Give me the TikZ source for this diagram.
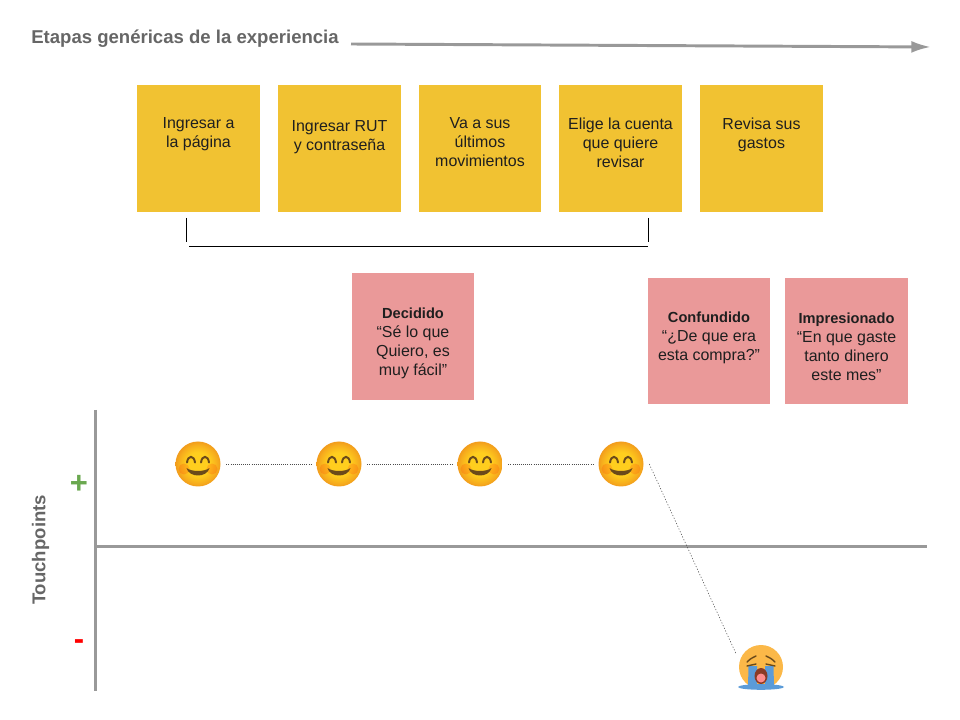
\documentclass[tikz,border=0pt]{standalone}
\usepackage{fontspec}
\setmainfont{Liberation Sans}
\usetikzlibrary{arrows.meta}
\definecolor{notayellow}{HTML}{F1C232}
\definecolor{notapink}{HTML}{EA9999}
\definecolor{ejegray}{HTML}{999999}
\definecolor{titlegray}{HTML}{666666}
\definecolor{bodytext}{HTML}{1F1F1F}
\definecolor{cara}{HTML}{FFCE1E}
\definecolor{caraborde}{HTML}{F29C1C}
\definecolor{ojos}{HTML}{6B4A1A}
\definecolor{caratriste}{HTML}{FBB848}
\definecolor{lagrima}{HTML}{5B9BD8}
\definecolor{boca}{HTML}{8A3B25}
\pgfdeclareradialshading{carasol}{\pgfpointorigin}{color(0bp)=(cara); color(13bp)=(cara); color(22bp)=(caraborde!70!cara); color(25bp)=(caraborde); color(50bp)=(caraborde)}
\tikzset{
  yellownote/.style={fill=notayellow,minimum width=3.075cm,minimum height=3.175cm,inner sep=0pt},
  pinknote/.style={fill=notapink,minimum width=3.05cm,minimum height=3.15cm,inner sep=0pt},
  notetext/.style={align=center,text=bodytext,font=\fontsize{11.35}{13.5}\selectfont,inner sep=0pt},
  axistitle/.style={inner sep=0pt,text=titlegray,font=\fontsize{13.2}{15}\selectfont\bfseries},
  eje/.style={ejegray,line width=2.1pt},
  dotline/.style={black!70,line width=.4pt,dash pattern=on .6pt off .9pt},
  emojislot/.style={circle,minimum size=1.4cm,inner sep=0pt},
  bracketline/.style={black,line width=.6pt},
  pics/smiley/.style={code={
    \shade[shading=carasol] (0,0) circle (22.5);
    \fill[red!70!orange,opacity=.18] (-14,5) circle (5.5);
    \fill[red!70!orange,opacity=.18] (14,5) circle (5.5);
    \draw[ojos,line width=1.4pt,line cap=round] (-11,-1.5) .. controls (-10,-9) and (-4,-9) .. (-3,-1.5);
    \draw[ojos,line width=1.4pt,line cap=round] (3,-1.5) .. controls (4,-9) and (10,-9) .. (11,-1.5);
    \fill[ojos] (-11.5,4) .. controls (-6,8) and (6,8) .. (11.5,4) .. controls (9,14) and (-9,14) .. (-11.5,4) -- cycle;
  }},
  pics/crying/.style={code={
    \fill[caratriste] (0,0) circle (22);
    \fill[lagrima] (-12.5,-1) -- (-4,-1) -- (-4,20) -- (-13,20) -- cycle;
    \fill[lagrima] (4,-1) -- (12.5,-1) -- (13,20) -- (4,20) -- cycle;
    \fill[lagrima] (0,20) ellipse (23 and 2.8);
    \draw[ojos,line width=1pt,line cap=round] (-14,-5) .. controls (-11,-8) .. (-5,-11);
    \draw[ojos,line width=1pt,line cap=round] (14,-5) .. controls (11,-8) .. (5,-11);
    \draw[ojos,line width=1pt,line cap=round] (-14,-1) -- (-5,-3);
    \draw[ojos,line width=1pt,line cap=round] (14,-1) -- (5,-3);
    \fill[boca] (0,9) ellipse (6.5 and 8);
    \fill[red!45!white] (0,11) ellipse (4.5 and 4.5);
  }},
}
\begin{document}
\begin{tikzpicture}[x=0.025cm,y=-0.025cm]
  \useasboundingbox (0,0) rectangle (960,720);
  % titulo y flecha
  \node[axistitle,anchor=west] (titulo) at (31,39) {Etapas genéricas de la experiencia};
  \coordinate (flechaini) at (351,44);
  \coordinate (flechafin) at (931,47);
  \draw[eje,-{Latex[length=14pt,width=8.5pt]}] (flechaini) -- (flechafin);
  % etapas
  \node[yellownote] (etapa1) at (198.5,148.5) {};
  \node[yellownote] (etapa2) at (339.5,148.5) {};
  \node[yellownote,minimum width=3.05cm] (etapa3) at (480,148.5) {};
  \node[yellownote] (etapa4) at (620.5,148.5) {};
  \node[yellownote] (etapa5) at (761.5,148.5) {};
  \node[notetext] (etapatxt1) at (198.5,134.5) {Ingresar a\\la página};
  \node[notetext] (etapatxt2) at (339.5,137.5) {Ingresar RUT\\y contraseña};
  \node[notetext] (etapatxt3) at (480,142.5) {Va a sus\\últimos\\movimientos};
  \node[notetext] (etapatxt4) at (620.5,142.5) {Elige la cuenta\\que quiere\\revisar};
  \node[notetext] (etapatxt5) at (761.5,134.5) {Revisa sus\\gastos};
  % corchete
  \coordinate (corA) at (186.5,218);
  \coordinate (corB) at (186.5,242);
  \coordinate (corC) at (189,246.5);
  \coordinate (corD) at (648,246.5);
  \coordinate (corE) at (648.5,218);
  \coordinate (corF) at (648.5,242);
  \draw[bracketline] (corA) -- (corB);
  \draw[bracketline] (corC) -- (corD);
  \draw[bracketline] (corE) -- (corF);
  % emociones
  \node[pinknote,minimum height=3.175cm] (emo1) at (413,336.5) {};
  \node[pinknote] (emo2) at (709,341) {};
  \node[pinknote] (emo3) at (846.5,341) {};
  \node[notetext] (emotxt1) at (413,343) {{\fontsize{10.4}{13.5}\selectfont\textbf{Decidido}}\\“Sé lo que\\Quiero, es\\muy fácil”};
  \node[notetext] (emotxt2) at (709,338) {{\fontsize{10.4}{13.5}\selectfont\textbf{Confundido}}\\“¿De que era\\esta compra?”};
  \node[notetext] (emotxt3) at (846.5,347) {{\fontsize{10.4}{13.5}\selectfont\textbf{Impresionado}}\\“En que gaste\\tanto dinero\\este mes”};
  % ejes
  \coordinate (ejeTop) at (95.5,410);
  \coordinate (ejeBot) at (95.5,691);
  \coordinate (ejeIzq) at (97,546.5);
  \coordinate (ejeDer) at (927,546.5);
  \draw[eje] (ejeTop) -- (ejeBot);
  \draw[eje] (ejeIzq) -- (ejeDer);
  \node[axistitle,rotate=90] (touch) at (40.5,550) {Touchpoints};
  \node[inner sep=0pt,text={rgb,255:red,106;green,168;blue,79},font=\fontsize{22}{22}\selectfont\bfseries] (mas) at (79,484) {+};
  \node[inner sep=0pt,text=red,font=\fontsize{22}{22}\selectfont\bfseries] (menos) at (79,645) {-};
  % caras
  \foreach \n/\x in {1/198,2/339,3/480,4/621} {
    \pic at (\x,464) {smiley};
    \node[emojislot] (cara\n) at (\x,464) {};
  }
  \pic at (761,667) {crying};
  \node[emojislot] (llanto) at (761,667) {};
  \draw[dotline] (cara1) -- (cara2);
  \draw[dotline] (cara2) -- (cara3);
  \draw[dotline] (cara3) -- (cara4);
  \draw[dotline,dash pattern=on .8pt off 1.3pt] (cara4.east) -- (llanto.152);
\end{tikzpicture}
\end{document}
